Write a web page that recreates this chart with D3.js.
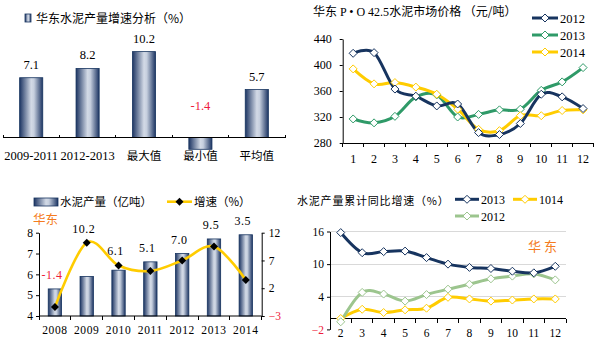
<!DOCTYPE html>
<html><head><meta charset="utf-8">
<script src="https://cdn.jsdelivr.net/npm/d3@7"></script>
<style>
body{margin:0;background:#fff;}
svg{display:block;background:#fff;}
text{font-family:"Liberation Serif","Times New Roman",serif;fill:#000;}
.cjk{font-family:"Noto Sans CJK SC","Noto Sans",sans-serif;}
</style></head><body>
<svg id="chart" width="600" height="341"></svg>
<script>
// ---- data ----
const growthCats = ["2009-2011", "2012-2013", "最大值", "最小值", "平均值"];
const growthVals = [7.1, 8.2, 10.2, -1.4, 5.7];

const months = ["1","2","3","4","5","6","7","8","9","10","11","12"];
const price2012 = [418, 419, 363, 352, 337, 340, 296, 293, 310, 355, 351, 333];
const price2013 = [317, 311, 321, 351, 354, 320, 324, 331, 332, 361, 374, 396];
const price2014 = [394, 371, 373, 366, 355, 332, 301, 299, 322, 322, 330, 331];
const priceTicks = [280, 320, 360, 400, 440];

const years = ["2008","2009","2010","2011","2012","2013","2014"];
const output = [5.3, 5.9, 6.2, 6.6, 7.0, 7.7, 7.9];
const growthRate = [-1.4, 10.2, 6.1, 5.1, 7.0, 9.5, 3.5];
const outputTicks = [4, 5, 6, 7, 8];
const rateTicks = [-3, 2, 7, 12];

const cumMonths = ["2","3","4","5","6","7","8","9","10","11","12"];
const cum2013 = [15.8, 12.1, 12.3, 12.4, 11.2, 10.0, 9.4, 9.2, 8.7, 8.4, 9.6];
const cum1014 = [0.0, 1.7, 1.1, 1.6, 1.9, 3.9, 3.6, 3.2, 3.4, 3.6, 3.6];
const cum2012 = [-0.6, 4.8, 4.5, 3.2, 4.4, 5.4, 6.3, 7.3, 7.8, 8.2, 7.1];
const cumTicks = [-2, 4, 10, 16];

// ---- colours ----
const NAVY = "#17345f", GREEN = "#2f9a68", YELLOW = "#ffcc00", LGREEN = "#9cc58e";
const RED = "#ee1c3c", ORANGE = "#f47b20";

const svg = d3.select("#chart");
const defs = svg.append("defs");
function barGradient(id) {
  const g = defs.append("linearGradient").attr("id", id)
    .attr("x1", "0").attr("x2", "1").attr("y1", "0").attr("y2", "0");
  g.append("stop").attr("offset", "0").attr("stop-color", "#1d3563");
  g.append("stop").attr("offset", "0.5").attr("stop-color", "#d3dae6");
  g.append("stop").attr("offset", "0.62").attr("stop-color", "#c6cfde");
  g.append("stop").attr("offset", "1").attr("stop-color", "#1d3563");
}
barGradient("barGrad");

const intFmt = d3.format("d");
const diamondPath = r => `M0,${-r}L${r},0L0,${r}L${-r},0Z`;
function styleAxis(g) {
  g.select(".domain").attr("stroke", "#000").attr("stroke-width", 1);
  g.selectAll(".tick line").attr("stroke", "#000");
  g.selectAll("text").attr("font-family", "Liberation Serif, serif").attr("fill", "#000");
}
function bandTicks(g, scale, y, len) {
  const edges = scale.domain().map(d => scale(d) - scale.step() * scale.paddingOuter());
  edges.push(scale.range()[1]);
  g.selectAll(null).data(edges).join("line")
    .attr("x1", d => d).attr("x2", d => d)
    .attr("y1", y).attr("y2", y + len)
    .attr("stroke", "#000").attr("shape-rendering", "crispEdges");
}

// ================= Panel 1: growth analysis bars =================
(function () {
  const g = svg.append("g");
  const x = d3.scaleBand().domain(growthCats).range([3, 285]).paddingInner(0.59).paddingOuter(0.295);
  const y = d3.scaleLinear().domain([0, 10]).range([137.5, 53.3]);

  g.selectAll("rect.bar").data(growthVals).join("rect").attr("class", "bar")
    .attr("x", (d, i) => x(growthCats[i]))
    .attr("width", x.bandwidth())
    .attr("y", d => Math.min(y(d), y(0)))
    .attr("height", d => Math.abs(y(d) - y(0)))
    .attr("fill", "url(#barGrad)").attr("stroke", "#17345f").attr("stroke-width", 0.8);

  g.append("line").attr("x1", 3).attr("x2", 285).attr("y1", y(0)).attr("y2", y(0))
    .attr("stroke", "#000").attr("shape-rendering", "crispEdges");
  bandTicks(g, x, y(0), -3);

  g.selectAll("text.val").data(growthVals).join("text").attr("class", "val")
    .attr("x", (d, i) => x(growthCats[i]) + x.bandwidth() / 2)
    .attr("y", d => d >= 0 ? y(d) - 9 : y(0) - 28)
    .attr("text-anchor", "middle").attr("font-size", 12.5)
    .style("fill", d => d < 0 ? RED : "#000")
    .text(d => d.toFixed(1));

  g.selectAll("text.cat").data(growthCats).join("text").attr("class", (d, i) => i < 2 ? "cat" : "cat cjk")
    .attr("x", d => x(d) + x.bandwidth() / 2).attr("y", 160)
    .attr("text-anchor", "middle").attr("font-size", d => /\d/.test(d) ? 12.5 : 11.5)
    .text(d => d);

  g.append("rect").attr("x", 25).attr("y", 14).attr("width", 6).attr("height", 8)
    .attr("fill", "url(#barGrad)").attr("stroke", NAVY).attr("stroke-width", 0.8);
  g.append("text").attr("class", "cjk").attr("x", 36).attr("y", 23).attr("font-size", 12)
    .text("华东水泥产量增速分析（%）");
})();

// ================= Panel 2: price lines =================
(function () {
  const g = svg.append("g");
  const x = d3.scaleBand().domain(months).range([342.7, 593.5]);
  const y = d3.scaleLinear().domain([280, 440]).range([143, 39]);
  const cx = m => x(m) + x.bandwidth() / 2;

  const ya = g.append("g").attr("transform", "translate(342.7,0)")
    .call(d3.axisLeft(y).tickValues(priceTicks).tickFormat(intFmt).tickSize(3).tickSizeOuter(0).tickPadding(8));
  styleAxis(ya);
  ya.selectAll("text").attr("font-size", 12);

  const xa = g.append("g").attr("transform", "translate(0,143)")
    .call(d3.axisBottom(x).tickSize(0).tickPadding(11));
  styleAxis(xa);
  xa.selectAll("text").attr("font-size", 12);
  bandTicks(g, x, 143, 4);

  const line = d3.line().x((d, i) => cx(months[i])).y(d => y(d)).curve(d3.curveCardinal.tension(0));
  const series = [[price2013, GREEN], [price2014, YELLOW], [price2012, NAVY]];
  series.forEach(([vals, col]) => {
    g.append("path").attr("d", line(vals)).attr("fill", "none")
      .attr("stroke", col).attr("stroke-width", 3).attr("stroke-linejoin", "round");
  });
  series.forEach(([vals, col]) => {
    g.selectAll(null).data(vals).join("path")
      .attr("transform", (d, i) => `translate(${cx(months[i])},${y(d)})`)
      .attr("d", diamondPath(4)).attr("fill", "#fff").attr("stroke", col).attr("stroke-width", 1);
  });

  g.append("text").attr("x", 313).attr("y", 16).attr("font-size", 12)
    .html('<tspan class="cjk">华东</tspan> P • O 42.5<tspan class="cjk">水泥市场价格 （元/吨）</tspan>');

  const leg = [["2012", NAVY, 18], ["2013", GREEN, 35], ["2014", YELLOW, 52]];
  leg.forEach(([lab, col, ly]) => {
    g.append("line").attr("x1", 532).attr("x2", 558).attr("y1", ly).attr("y2", ly)
      .attr("stroke", col).attr("stroke-width", 3);
    g.append("path").attr("transform", `translate(545,${ly})`).attr("d", diamondPath(4))
      .attr("fill", "#fff").attr("stroke", col);
    g.append("text").attr("x", 560).attr("y", ly + 4.5).attr("font-size", 12.5).text(lab);
  });
})();

// ================= Panel 3: output bars + growth line =================
(function () {
  const g = svg.append("g");
  const x = d3.scaleBand().domain(years).range([39, 261.7]).paddingInner(0.58).paddingOuter(0.29);
  const yl = d3.scaleLinear().domain([4, 8]).range([316, 232.7]);
  const yr = d3.scaleLinear().domain([-3, 12]).range([316, 232.7]);
  const cx = yv => x(yv) + x.bandwidth() / 2;

  g.selectAll("rect.bar").data(output).join("rect").attr("class", "bar")
    .attr("x", (d, i) => x(years[i])).attr("width", x.bandwidth())
    .attr("y", d => yl(d)).attr("height", d => yl(4) - yl(d))
    .attr("fill", "url(#barGrad)").attr("stroke", NAVY).attr("stroke-width", 0.8);

  const la = g.append("g").attr("transform", "translate(39,0)")
    .call(d3.axisLeft(yl).tickValues(outputTicks).tickFormat(intFmt).tickSize(3).tickSizeOuter(0).tickPadding(3));
  styleAxis(la);
  la.selectAll("text").attr("font-size", 11.5);

  const ra = g.append("g").attr("transform", "translate(261.7,0)")
    .call(d3.axisRight(yr).tickValues(rateTicks).tickFormat(intFmt).tickSize(3).tickSizeOuter(0).tickPadding(4));
  styleAxis(ra);
  ra.selectAll("text").attr("font-size", 11.5).style("fill", d => d < 0 ? RED : "#000");

  const xa = g.append("g").attr("transform", "translate(0,316)")
    .call(d3.axisBottom(x).tickSize(0).tickPadding(10));
  styleAxis(xa);
  xa.selectAll("text").attr("font-size", 11.5).attr("letter-spacing", 0.6);
  xa.select(".domain").attr("d", "M39,0H261.7");
  bandTicks(g, x, 316, 4);

  const line = d3.line().x((d, i) => cx(years[i])).y(d => yr(d)).curve(d3.curveCardinal.tension(0));
  g.append("path").attr("d", line(growthRate)).attr("fill", "none")
    .attr("stroke", YELLOW).attr("stroke-width", 2.6);
  g.selectAll("path.mk").data(growthRate).join("path").attr("class", "mk")
    .attr("transform", (d, i) => `translate(${cx(years[i])},${yr(d)})`)
    .attr("d", diamondPath(4)).attr("fill", "#000");

  g.selectAll("text.val").data(growthRate).join("text").attr("class", "val")
    .attr("x", (d, i) => cx(years[i]) - 3)
    .attr("y", (d, i) => Math.min(yr(d), yl(output[i])) - 10)
    .attr("text-anchor", "middle").attr("font-size", 12).attr("letter-spacing", 0.5)
    .style("fill", d => d < 0 ? RED : "#000")
    .text(d => d.toFixed(1));

  // legend
  g.append("rect").attr("x", 34).attr("y", 198).attr("width", 24).attr("height", 8)
    .attr("fill", "url(#barGrad)").attr("stroke", NAVY).attr("stroke-width", 0.8);
  g.append("text").attr("class", "cjk").attr("x", 60).attr("y", 206).attr("font-size", 11.5)
    .text("水泥产量（亿吨）");
  g.append("line").attr("x1", 167).attr("x2", 192).attr("y1", 201.7).attr("y2", 201.7)
    .attr("stroke", YELLOW).attr("stroke-width", 2.6);
  g.append("path").attr("transform", "translate(179.5,201.7)").attr("d", diamondPath(4)).attr("fill", "#000");
  g.append("text").attr("class", "cjk").attr("x", 194).attr("y", 206).attr("font-size", 11.5)
    .text("增速（%）");
  g.append("text").attr("class", "cjk").attr("x", 33).attr("y", 224).attr("font-size", 12.5)
    .style("fill", ORANGE).text("华东");
})();

// ================= Panel 4: cumulative growth lines =================
(function () {
  const g = svg.append("g");
  const x = d3.scaleBand().domain(cumMonths).range([330, 566]);
  const y = d3.scaleLinear().domain([-2, 16]).range([329.4, 231.5]);
  const cx = m => x(m) + x.bandwidth() / 2;

  g.selectAll("line.grid").data([4, 10, 16]).join("line").attr("class", "grid")
    .attr("x1", 330).attr("x2", 566).attr("y1", d => y(d)).attr("y2", d => y(d))
    .attr("stroke", "#d9d9d9").attr("shape-rendering", "crispEdges");

  const ya = g.append("g").attr("transform", "translate(330,0)")
    .call(d3.axisLeft(y).tickValues(cumTicks).tickFormat(intFmt).tickSize(3).tickSizeOuter(0).tickPadding(3));
  styleAxis(ya);
  ya.selectAll("text").attr("font-size", 11.5).style("fill", d => d < 0 ? RED : "#000");

  g.append("line").attr("x1", 330).attr("x2", 566).attr("y1", y(0)).attr("y2", y(0))
    .attr("stroke", "#000").attr("shape-rendering", "crispEdges");
  bandTicks(g, x, y(0), 4);
  g.selectAll("text.cat").data(cumMonths).join("text").attr("class", "cat")
    .attr("x", d => cx(d)).attr("y", 337).attr("text-anchor", "middle").attr("font-size", 11.5)
    .text(d => d);

  const line = d3.line().x((d, i) => cx(cumMonths[i])).y(d => y(d)).curve(d3.curveCardinal.tension(0));
  const series = [[cum1014, YELLOW], [cum2012, LGREEN], [cum2013, NAVY]];
  series.forEach(([vals, col]) => {
    g.append("path").attr("d", line(vals)).attr("fill", "none")
      .attr("stroke", col).attr("stroke-width", 3).attr("stroke-linejoin", "round");
  });
  series.forEach(([vals, col]) => {
    g.selectAll(null).data(vals).join("path")
      .attr("transform", (d, i) => `translate(${cx(cumMonths[i])},${y(d)})`)
      .attr("d", diamondPath(4)).attr("fill", "#fff").attr("stroke", col).attr("stroke-width", 1);
  });

  g.append("text").attr("class", "cjk").attr("x", 297).attr("y", 205).attr("font-size", 11)
    .attr("letter-spacing", 0.8).text("水泥产量累计同比增速（%）");
  g.append("text").attr("class", "cjk").attr("x", 528).attr("y", 251).attr("font-size", 13)
    .attr("letter-spacing", 3).style("fill", ORANGE).text("华东");

  const leg = [["2013", NAVY, 455, 199.3], ["1014", YELLOW, 513, 199.3], ["2012", LGREEN, 455, 216]];
  leg.forEach(([lab, col, lx, ly]) => {
    g.append("line").attr("x1", lx).attr("x2", lx + 24).attr("y1", ly).attr("y2", ly)
      .attr("stroke", col).attr("stroke-width", 3);
    g.append("path").attr("transform", `translate(${lx + 12},${ly})`).attr("d", diamondPath(4))
      .attr("fill", "#fff").attr("stroke", col);
    g.append("text").attr("x", lx + 26).attr("y", ly + 4.5).attr("font-size", 12).text(lab);
  });
})();
</script>
</body></html>
